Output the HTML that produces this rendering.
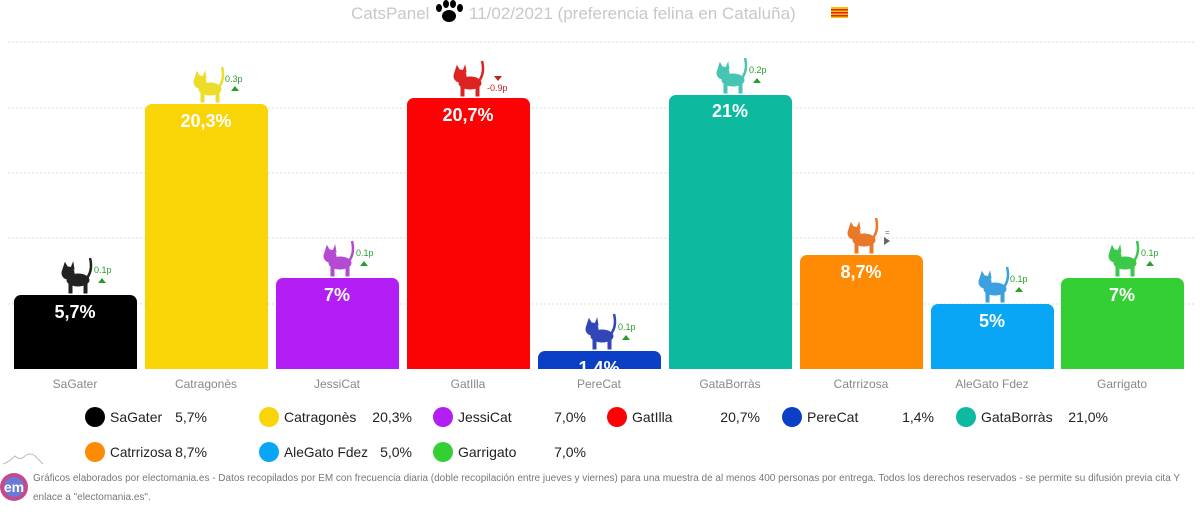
<!DOCTYPE html>
<html><head><meta charset="utf-8"><style>
body{margin:0;background:#fff;}
svg{display:block;font-family:"Liberation Sans","DejaVu Sans",sans-serif;}
</style></head><body>
<svg width="1200" height="515" viewBox="0 0 1200 515" xmlns="http://www.w3.org/2000/svg">
<g stroke="#ddd" stroke-dasharray="2,2" stroke-width="1">
<line x1="8" x2="1195" y1="42" y2="42"/><line x1="8" x2="1195" y1="108" y2="108"/>
<line x1="8" x2="1195" y1="173" y2="173"/><line x1="8" x2="1195" y1="238" y2="238"/>
<line x1="8" x2="1195" y1="304" y2="304"/>
</g>
<text x="351" y="19" font-size="17" fill="#c8c8c8">CatsPanel</text>
<g fill="#000"><ellipse cx="449" cy="16" rx="7" ry="6"/><ellipse cx="439" cy="8" rx="3" ry="4"/><ellipse cx="446" cy="4" rx="3" ry="4"/><ellipse cx="453" cy="4" rx="3" ry="4"/><ellipse cx="460" cy="8" rx="3" ry="4"/></g>
<text x="469" y="19" font-size="17" fill="#c8c8c8">11/02/2021 (preferencia felina en Cataluña)</text>
<rect x="831" y="7" width="17" height="11" fill="#f5c400"/><g fill="#d22"><rect x="831" y="9" width="17" height="1.5"/><rect x="831" y="12" width="17" height="1.5"/><rect x="831" y="15" width="17" height="1.5"/></g>
<g font-weight="bold" font-size="18" fill="#fff" text-anchor="middle">
<rect x="14" y="295" width="123" height="80" rx="7" fill="#000"/><text x="75" y="318">5,7%</text>
<rect x="145" y="104" width="123" height="271" rx="7" fill="#f9d507"/><text x="206" y="127">20,3%</text>
<rect x="276" y="278" width="123" height="97" rx="7" fill="#b31ef5"/><text x="337" y="301">7%</text>
<rect x="407" y="98" width="123" height="277" rx="7" fill="#fb0204"/><text x="468" y="121">20,7%</text>
<rect x="538" y="351" width="123" height="24" rx="7" fill="#0b3fc6"/><text x="599" y="374">1,4%</text>
<rect x="669" y="95" width="123" height="280" rx="7" fill="#0dbaa0"/><text x="730" y="117">21%</text>
<rect x="800" y="255" width="123" height="120" rx="7" fill="#ff8a04"/><text x="861" y="278">8,7%</text>
<rect x="931" y="304" width="123" height="71" rx="7" fill="#0aa6f6"/><text x="992" y="327">5%</text>
<rect x="1061" y="278" width="123" height="97" rx="7" fill="#34cf34"/><text x="1122" y="301">7%</text>
</g>
<rect x="0" y="369" width="1200" height="6" fill="#fff"/>
<defs><g id="cat"><ellipse cx="0" cy="0" rx="11" ry="6"/><circle cx="-10" cy="-7" r="6"/><path d="M-15,-11 l2,-6 l3,5z M-7,-12 l2,-5 l1,6z"/><rect x="-9" y="3" width="3" height="10"/><rect x="6" y="3" width="3" height="10"/><path d="M9,-2 q6,-8 3,-20" stroke-width="2.5" fill="none" stroke="inherit"/></g></defs>
<g fill="#222" stroke="#222"><use href="#cat" x="78" y="280"/></g>
<g fill="#eedc2a" stroke="#eedc2a"><use href="#cat" x="210" y="89"/></g>
<g fill="#b54ad2" stroke="#b54ad2"><use href="#cat" x="340" y="263"/></g>
<g fill="#d22" stroke="#d22"><use href="#cat" x="470" y="83"/></g>
<g fill="#3346b8" stroke="#3346b8"><use href="#cat" x="602" y="336"/></g>
<g fill="#48c4b4" stroke="#48c4b4"><use href="#cat" x="733" y="80"/></g>
<g fill="#e8792b" stroke="#e8792b"><use href="#cat" x="864" y="240"/></g>
<g fill="#3aa0e0" stroke="#3aa0e0"><use href="#cat" x="995" y="289"/></g>
<g fill="#3cc84a" stroke="#3cc84a"><use href="#cat" x="1125" y="263"/></g>
<g font-size="9" fill="#2a9d2a">
<text x="94" y="273">0.1p</text><path d="M98,283 l4,-5 l4,5z"/>
<text x="225" y="82">0.3p</text><path d="M231,91 l4,-5 l4,5z"/>
<text x="356" y="256">0.1p</text><path d="M360,266 l4,-5 l4,5z"/>
<text x="618" y="330">0.1p</text><path d="M622,340 l4,-5 l4,5z"/>
<text x="749" y="73">0.2p</text><path d="M753,83 l4,-5 l4,5z"/>
<text x="1010" y="282">0.1p</text><path d="M1015,292 l4,-5 l4,5z"/>
<text x="1141" y="256">0.1p</text><path d="M1146,266 l4,-5 l4,5z"/>
</g>
<path d="M494,76 l4,5 l4,-5z" fill="#b22"/><text x="487" y="91" font-size="9" fill="#b22">-0.9p</text>
<path d="M884,237 l6,4 l-6,4z" fill="#666"/><text x="885" y="235" font-size="8" fill="#666">=</text>
<g font-size="12" fill="#888" text-anchor="middle">
<text x="75" y="388">SaGater</text><text x="206" y="388">Catragonès</text><text x="337" y="388">JessiCat</text>
<text x="468" y="388">GatIlla</text><text x="599" y="388">PereCat</text><text x="730" y="388">GataBorràs</text>
<text x="861" y="388">Catrrizosa</text><text x="992" y="388">AleGato Fdez</text><text x="1122" y="388">Garrigato</text>
</g>
<g font-size="14" fill="#222">
<circle cx="95" cy="417" r="10" fill="#000"/><text x="110" y="422">SaGater</text><text x="207" y="422" text-anchor="end">5,7%</text>
<circle cx="269" cy="417" r="10" fill="#f9d507"/><text x="284" y="422">Catragonès</text><text x="412" y="422" text-anchor="end">20,3%</text>
<circle cx="443" cy="417" r="10" fill="#b31ef5"/><text x="458" y="422">JessiCat</text><text x="586" y="422" text-anchor="end">7,0%</text>
<circle cx="617" cy="417" r="10" fill="#fb0204"/><text x="632" y="422">GatIlla</text><text x="760" y="422" text-anchor="end">20,7%</text>
<circle cx="792" cy="417" r="10" fill="#0b3fc6"/><text x="807" y="422">PereCat</text><text x="934" y="422" text-anchor="end">1,4%</text>
<circle cx="966" cy="417" r="10" fill="#0dbaa0"/><text x="981" y="422">GataBorràs</text><text x="1108" y="422" text-anchor="end">21,0%</text>
<circle cx="95" cy="452" r="10" fill="#ff8a04"/><text x="110" y="457" textLength="62" lengthAdjust="spacingAndGlyphs">Catrrizosa</text><text x="207" y="457" text-anchor="end">8,7%</text>
<circle cx="269" cy="452" r="10" fill="#0aa6f6"/><text x="284" y="457" textLength="84" lengthAdjust="spacingAndGlyphs">AleGato Fdez</text><text x="412" y="457" text-anchor="end">5,0%</text>
<circle cx="443" cy="452" r="10" fill="#34cf34"/><text x="458" y="457">Garrigato</text><text x="586" y="457" text-anchor="end">7,0%</text>
</g>
<path d="M3,464 q6,-2 12,-8 q5,5 10,0 q5,-4 10,0 q4,4 8,8" fill="none" stroke="#bbb"/>
<circle cx="14" cy="487" r="14" fill="#c44a8a"/><circle cx="14" cy="487" r="10" fill="#6a7ad8"/>
<text x="14" y="492" font-size="14" font-weight="bold" fill="#fff" text-anchor="middle">em</text>
<g font-size="10" fill="#777">
<text x="33" y="481" textLength="1147" lengthAdjust="spacingAndGlyphs">Gráficos elaborados por electomania.es - Datos recopilados por EM con frecuencia diaria (doble recopilación entre jueves y viernes) para una muestra de al menos 400 personas por entrega. Todos los derechos reservados - se permite su difusión previa cita Y</text>
<text x="33" y="500">enlace a "electomania.es".</text>
</g>
</svg>
</body></html>
